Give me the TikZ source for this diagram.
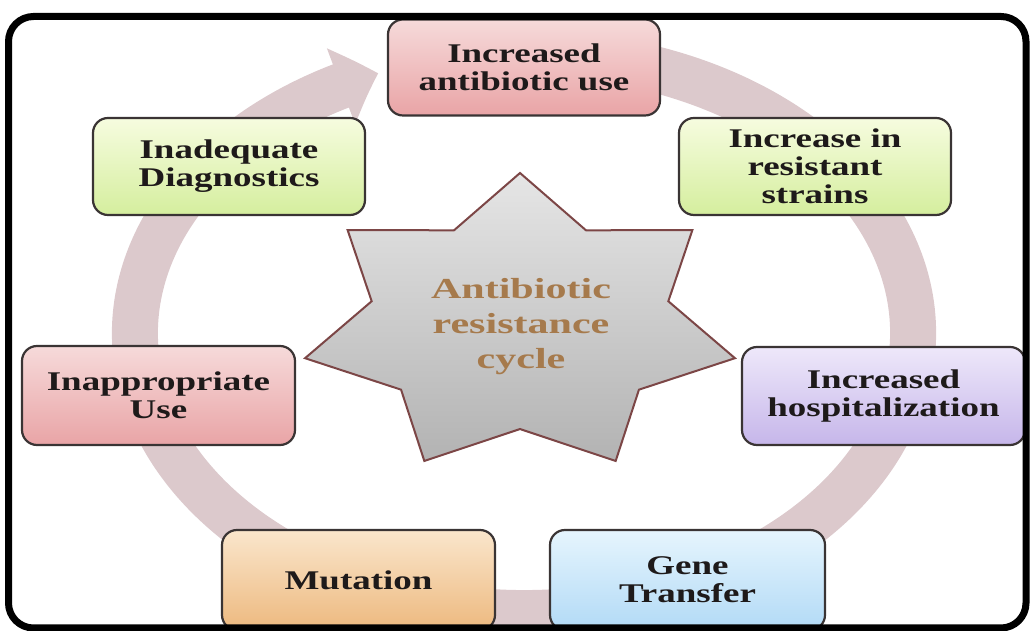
\documentclass[tikz,border=0pt]{standalone}
\usepackage{fontspec}
\setmainfont{Liberation Serif}[FakeStretch=1.37]
\newfontfamily\starfont{Liberation Serif}[FakeStretch=1.45]
\usetikzlibrary{arrows.meta, bending}

\definecolor{boxedge}{HTML}{3A3434}
\definecolor{boxtext}{HTML}{1E1A1A}
\definecolor{redtop}{HTML}{F6DADA}
\definecolor{redbot}{HTML}{E9A4A6}
\definecolor{greentop}{HTML}{F6FCDF}
\definecolor{greenbot}{HTML}{D5EE9E}
\definecolor{purpletop}{HTML}{EEE8FA}
\definecolor{purplebot}{HTML}{C6B6EA}
\definecolor{orangetop}{HTML}{FAE6CC}
\definecolor{orangebot}{HTML}{EDB97F}
\definecolor{bluetop}{HTML}{E6F5FD}
\definecolor{bluebot}{HTML}{B2DAF6}
\definecolor{ringfill}{HTML}{DCC9CC}
\definecolor{staredge}{HTML}{7C4646}
\definecolor{startext}{HTML}{A67A4C}

\begin{document}
\begin{tikzpicture}[
      x=1pt, y=1pt,
      cyclebox/.style={
         draw=boxedge,
         line width=2.2pt,
         rounded corners=15pt,
         minimum width=272pt,
         minimum height=96pt,
         inner sep=2pt,
         align=center,
         text=boxtext,
         font=\bfseries\fontsize{27}{28}\selectfont
      },
      redbox/.style={cyclebox, top color=redtop, bottom color=redbot},
      greenbox/.style={cyclebox, top color=greentop, bottom color=greenbot},
      purplebox/.style={cyclebox, top color=purpletop, bottom color=purplebot},
      orangebox/.style={cyclebox, top color=orangetop, bottom color=orangebot},
      bluebox/.style={cyclebox, top color=bluetop, bottom color=bluebot},
      ring/.style={
         draw=ringfill,
         line width=46pt,
         -{Triangle[length=40pt, width=78pt, bend]}
      },
      starshape/.style={
         draw=staredge,
         line width=2pt,
         line join=miter,
         top color=black!10,
         bottom color=black!30
      },
      frame/.style={draw=black, line width=7pt, rounded corners=25pt}
   ]

      \useasboundingbox (0,0) rectangle (1030,631);

      % ring arrow behind everything
      \coordinate (ringc) at (524,298);
      \draw[ring] ([shift={(75:389pt and 280pt)}]ringc)
         arc[start angle=75, end angle=-248, x radius=389pt, y radius=280pt];

      % seven-pointed star
      \draw[starshape] (520,458)
         \foreach \i in {1,...,13} {
            -- ({520+220.5*(1-0.31*mod(\i,2))*cos(90+\i*180/7)},
                {306.5+151.5*(1-0.31*mod(\i,2))*sin(90+\i*180/7)})
         } -- cycle;
      \node[align=center, text=startext,
            font=\starfont\bfseries\fontsize{29}{35}\selectfont]
         (cycletext) at (521,304) {Antibiotic\\resistance\\cycle};

      \node[redbox] (use) at (524,563.5) {Increased\\antibiotic use};
      \node[greenbox, minimum height=97pt] (strains) at (815,464.5)
         {Increase in\\resistant\\strains};
      \node[purplebox, minimum width=283pt, minimum height=98pt] (hosp) at (883.5,235)
         {Increased\\hospitalization};
      \node[bluebox, minimum width=275pt, minimum height=100pt] (gene) at (687.5,51)
         {Gene\\Transfer};
      \node[orangebox, minimum width=273pt, minimum height=100pt] (mutation) at (358.5,51)
         {Mutation};
      \node[redbox, minimum width=273pt, minimum height=99pt] (inappr) at (158.5,235.5)
         {Inappropriate\\Use};
      \node[greenbox, minimum height=97pt] (diag) at (229,464.5)
         {Inadequate\\Diagnostics};

      \draw[frame] (8.5,3) rectangle (1026,614.5);
   \end{tikzpicture}
\end{document}
